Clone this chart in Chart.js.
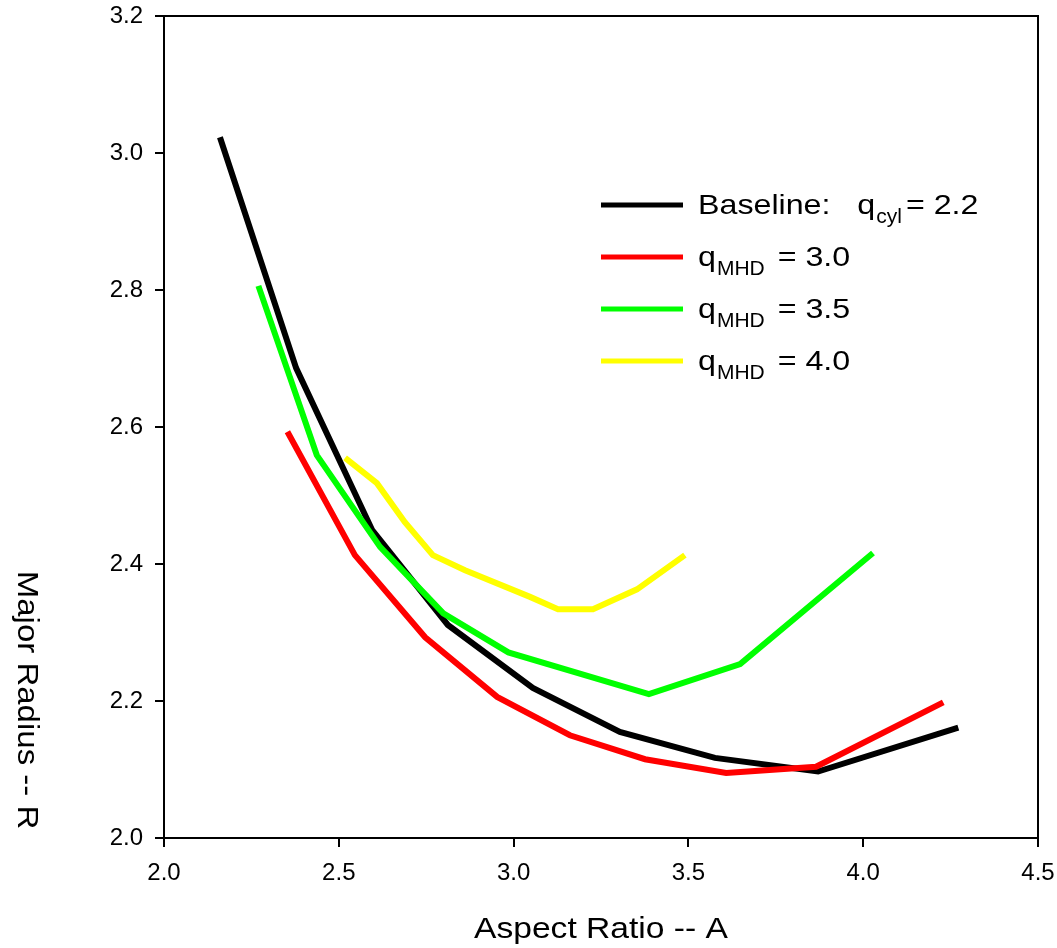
<!DOCTYPE html>
<html>
<head>
<meta charset="utf-8">
<script src="https://cdn.jsdelivr.net/npm/chart.js@4.4.1/dist/chart.umd.min.js"></script>
<style>
html,body{margin:0;padding:0;background:#fff;}
canvas{display:block;}
</style>
</head>
<body>
<canvas id="c" width="1057" height="948"></canvas>
<script>
// ---- data ----
const baselineA = [2.160, 2.378, 2.595, 2.812, 3.055, 3.304, 3.576, 3.871, 4.272];
const baselineR = [3.023, 2.686, 2.450, 2.311, 2.219, 2.155, 2.117, 2.097, 2.161];

const mhd30A = [2.353, 2.546, 2.747, 2.953, 3.161, 3.376, 3.608, 3.865, 4.229];
const mhd30R = [2.593, 2.413, 2.293, 2.206, 2.150, 2.115, 2.095, 2.104, 2.198];

const mhd35A = [2.270, 2.437, 2.618, 2.799, 2.985, 3.387, 3.648, 4.028];
const mhd35R = [2.806, 2.559, 2.425, 2.328, 2.271, 2.210, 2.254, 2.416];

const mhd40A = [2.518, 2.609, 2.689, 2.769, 2.861, 3.047, 3.127, 3.227, 3.353, 3.490];
const mhd40R = [2.555, 2.518, 2.461, 2.413, 2.391, 2.352, 2.334, 2.334, 2.363, 2.413];

const xTickValues = [2.0, 2.5, 3.0, 3.5, 4.0, 4.5];
const yTickValues = [2.0, 2.2, 2.4, 2.6, 2.8, 3.0, 3.2];

const seriesColors = ['#000000', '#ff0000', '#00ff00', '#ffff00'];
// legend: [main, subscript, rest]
const legendParts = [
  ['Baseline:   q', 'cyl', '= 2.2'],
  ['q', 'MHD', ' = 3.0'],
  ['q', 'MHD', ' = 3.5'],
  ['q', 'MHD', ' = 4.0']
];
const xTitle = 'Aspect Ratio -- A';
const yTitle = 'Major Radius -- R';

function pts(a, r) { return a.map((v, i) => ({x: v, y: r[i]})); }

const FONT = '"Liberation Sans", Arial, Helvetica, sans-serif';

const decor = {
  id: 'decor',
  afterDraw(chart) {
    const ctx = chart.ctx;
    const ca = chart.chartArea;
    ctx.save();
    // top & right frame
    ctx.strokeStyle = '#000';
    ctx.lineWidth = 2;
    ctx.beginPath();
    ctx.moveTo(ca.left, ca.top);
    ctx.lineTo(ca.right, ca.top);
    ctx.lineTo(ca.right, ca.bottom);
    ctx.stroke();

    ctx.fillStyle = '#000';
    // x title
    ctx.font = '30px ' + FONT;
    ctx.textBaseline = 'alphabetic';
    ctx.textAlign = 'center';
    ctx.save();
    ctx.translate((ca.left + ca.right) / 2, 938);
    ctx.scale(1.12, 1);
    ctx.fillText(xTitle, 0, 0);
    ctx.restore();
    // y title (reads top to bottom)
    ctx.save();
    ctx.translate(18, 700);
    ctx.rotate(Math.PI / 2);
    ctx.scale(1.1, 1);
    ctx.fillText(yTitle, 0, 0);
    ctx.restore();

    // legend
    const lx0 = 601, lx1 = 683;
    const rowY = [205, 257, 309, 361];
    ctx.textAlign = 'left';
    legendParts.forEach((p, i) => {
      const y = rowY[i];
      ctx.strokeStyle = seriesColors[i];
      ctx.lineWidth = 5;
      ctx.lineCap = 'butt';
      ctx.beginPath();
      ctx.moveTo(lx0, y);
      ctx.lineTo(lx1, y);
      ctx.stroke();
      const base = y + 9;
      let x = 698;
      ctx.font = '28px ' + FONT;
      ctx.save();
      ctx.translate(x, base);
      ctx.scale(1.15, 1);
      ctx.fillText(p[0], 0, 0);
      x += ctx.measureText(p[0]).width * 1.15 + 1;
      ctx.restore();
      ctx.font = '21px ' + FONT;
      ctx.fillText(p[1], x, base + 9);
      x += ctx.measureText(p[1]).width + 4;
      ctx.font = '28px ' + FONT;
      ctx.save();
      ctx.translate(x, base);
      ctx.scale(1.15, 1);
      ctx.fillText(p[2], 0, 0);
      ctx.restore();
    });
    ctx.restore();
  }
};

const names = ['Baseline: q_cyl = 2.2', 'q_MHD = 3.0', 'q_MHD = 3.5', 'q_MHD = 4.0'];
const dataA = [baselineA, mhd30A, mhd35A, mhd40A];
const dataR = [baselineR, mhd30R, mhd35R, mhd40R];

const datasets = names.map((n, i) => ({
  label: n,
  data: pts(dataA[i], dataR[i]),
  showLine: true,
  borderColor: seriesColors[i],
  backgroundColor: seriesColors[i],
  borderWidth: 6,
  borderCapStyle: 'butt',
  borderJoinStyle: 'miter',
  pointRadius: 0,
  pointHoverRadius: 0,
  tension: 0,
  fill: false,
  order: 4 - i
}));

new Chart(document.getElementById('c'), {
  type: 'scatter',
  data: { datasets },
  options: {
    responsive: false,
    animation: false,
    devicePixelRatio: 1,
    layout: { padding: { top: 16, right: 19, left: 0, bottom: 0 } },
    plugins: { legend: { display: false }, tooltip: { enabled: false } },
    scales: {
      x: {
        type: 'linear',
        min: 2.0, max: 4.5,
        afterFit(s) { s.height = 110; s.paddingLeft = 0; s.paddingRight = 0; },
        afterBuildTicks(s) { s.ticks = xTickValues.map(v => ({value: v})); },
        border: { display: true, color: '#000', width: 2 },
        grid: { display: true, drawOnChartArea: false, drawTicks: true, tickLength: 9, color: '#000', lineWidth: 2 },
        ticks: {
          color: '#000', padding: 12, maxRotation: 0,
          font: { family: FONT, size: 24 },
          callback: v => Number(v).toFixed(1)
        }
      },
      y: {
        type: 'linear',
        min: 2.0, max: 3.2,
        afterFit(s) { s.width = 164; s.paddingTop = 0; s.paddingBottom = 0; },
        afterBuildTicks(s) { s.ticks = yTickValues.map(v => ({value: v})); },
        border: { display: true, color: '#000', width: 2 },
        grid: { display: true, drawOnChartArea: false, drawTicks: true, tickLength: 9, color: '#000', lineWidth: 2 },
        ticks: {
          color: '#000', padding: 12,
          font: { family: FONT, size: 24 },
          callback: v => Number(v).toFixed(1)
        }
      }
    }
  },
  plugins: [decor]
});
</script>
</body>
</html>
